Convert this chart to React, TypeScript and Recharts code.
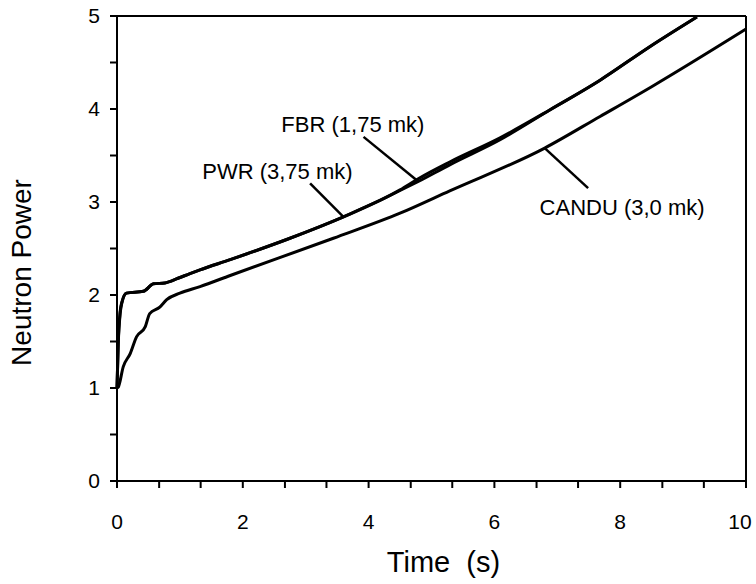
import { LineChart, Line, XAxis, YAxis, ReferenceLine, ReferenceDot, Label } from 'recharts';

// Neutron power transients (time in s, power relative)
const pwrTime = [0, 0.02, 0.05, 0.08, 0.15, 0.42, 0.58, 0.76, 0.97, 1.16, 1.32, 1.8, 2.75, 3.6, 4.79, 5.29, 6.09, 6.88, 7.68, 8.47, 9.22];
const pwrPower = [1.0, 1.5, 1.82, 1.93, 2.02, 2.04, 2.12, 2.13, 2.18, 2.23, 2.27, 2.38, 2.61, 2.84, 3.22, 3.4, 3.67, 3.99, 4.31, 4.67, 4.99];

const fbrTime = [0, 0.02, 0.05, 0.08, 0.15, 0.42, 0.58, 0.76, 0.97, 1.16, 1.32, 1.8, 2.75, 3.6, 4.5, 4.79, 5.29, 6.09, 6.88, 7.68, 8.47, 9.22];
const fbrPower = [1.0, 1.48, 1.8, 1.92, 2.02, 2.04, 2.12, 2.13, 2.18, 2.23, 2.27, 2.38, 2.61, 2.84, 3.13, 3.25, 3.43, 3.69, 3.99, 4.31, 4.67, 4.99];

const canduTime = [0, 0.02, 0.1, 0.21, 0.31, 0.45, 0.52, 0.68, 0.79, 1.0, 1.32, 1.8, 3.44, 4.5, 5.29, 6.8, 7.68, 8.5, 10];
const canduPower = [1.0, 1.01, 1.23, 1.37, 1.55, 1.66, 1.8, 1.87, 1.95, 2.02, 2.09, 2.21, 2.61, 2.88, 3.12, 3.58, 3.92, 4.24, 4.86];

const xMajorTicks = [0, 2, 4, 6, 8, 10];
const xMinorTicks = [0.67, 1.33, 2.67, 3.33, 4.67, 5.33, 6.67, 7.33, 8.67, 9.33];
const yMajorTicks = [0, 1, 2, 3, 4, 5];
const yMinorTicks = [0.5, 1.5, 2.5, 3.5, 4.5];

// annotation text and leader lines, in data units
const labels = [
  { text: 'FBR (1,75 mk)', t: 3.75, p: 3.84, from: [3.92, 3.7], to: [4.79, 3.22] },
  { text: 'PWR (3,75 mk)', t: 2.55, p: 3.33, from: [3.07, 3.2], to: [3.6, 2.84] },
  { text: 'CANDU (3,0 mk)', t: 8.03, p: 2.94, from: [7.49, 3.15], to: [6.8, 3.58] },
];

const FONT = '"Liberation Sans", Arial, sans-serif';

const toPoints = (ts: number[], ps: number[]) => ts.map((t, i) => ({ t, p: ps[i] }));

const pwrData = toPoints(pwrTime, pwrPower);
const fbrData = toPoints(fbrTime, fbrPower);
const canduData = toPoints(canduTime, canduPower);

const xTicks = [...xMajorTicks, ...xMinorTicks].sort((a, b) => a - b);
const yTicks = [...yMajorTicks, ...yMinorTicks].sort((a, b) => a - b);

// last label would run off the page, so pull it in a little
const XTick = (props: any) => {
  const { x, y, payload } = props;
  const v = payload.value;
  if (!xMajorTicks.includes(v)) return null;
  const last = v === xMajorTicks[xMajorTicks.length - 1];
  return (
    <text x={last ? x - 6 : x} y={y + 24} dy="0.71em" textAnchor="middle" fontSize={21} fontFamily={FONT} fill="#000">
      {v}
    </text>
  );
};

const YTitle = (props: any) => {
  const vb = props.viewBox;
  const cx = vb.x + 21;
  const cy = vb.y + vb.height / 2 + 24;
  return (
    <text x={cx} y={cy} transform={`rotate(-90 ${cx} ${cy})`} textAnchor="middle" dominantBaseline="central" fontSize={28} fontFamily={FONT} fill="#000">
      Neutron Power
    </text>
  );
};

const XTitle = (props: any) => {
  const vb = props.viewBox;
  return (
    <text x={vb.x + vb.width / 2 + 12} y={vb.y + 91} textAnchor="middle" fontSize={29} fontFamily={FONT} fill="#000" xmlSpace="preserve">
      Time  (s)
    </text>
  );
};

export default function App() {
  return (
    <div style={{ position: 'absolute', left: 0, top: 0, background: '#fff' }}>
      <LineChart width={756} height={584} margin={{ top: 16, right: 10, bottom: 0, left: 0 }}>
        <XAxis
          dataKey="t"
          type="number"
          domain={[0, 10]}
          ticks={xTicks}
          interval={0}
          height={103}
          stroke="#000"
          strokeWidth={2}
          tickSize={7}
          tick={XTick}
        >
          <Label content={XTitle} />
        </XAxis>
        <YAxis
          type="number"
          domain={[0, 5]}
          ticks={yTicks}
          interval={0}
          width={117}
          stroke="#000"
          strokeWidth={2}
          tickSize={7}
          tickMargin={10}
          tickFormatter={(v: number) => (yMajorTicks.includes(v) ? String(v) : '')}
          tick={{ fontSize: 21, fill: '#000', fontFamily: FONT }}
        >
          <Label content={YTitle} />
        </YAxis>
        <ReferenceLine y={5} stroke="#000" strokeWidth={2} />
        <ReferenceLine x={10} stroke="#000" strokeWidth={2} />
        <Line data={pwrData} dataKey="p" type="monotone" stroke="#000" strokeWidth={3} dot={false} isAnimationActive={false} />
        <Line data={fbrData} dataKey="p" type="monotone" stroke="#000" strokeWidth={3} dot={false} isAnimationActive={false} />
        <Line data={canduData} dataKey="p" type="monotone" stroke="#000" strokeWidth={3} dot={false} isAnimationActive={false} />
        {labels.map((l) => (
          <ReferenceLine
            key={l.text + '-lead'}
            segment={[{ x: l.from[0], y: l.from[1] }, { x: l.to[0], y: l.to[1] }]}
            stroke="#000"
            strokeWidth={2.5}
          />
        ))}
        {labels.map((l) => (
          <ReferenceDot key={l.text} x={l.t} y={l.p} r={1} fill="none" stroke="none">
            <Label value={l.text} position="center" fontSize={22} fontFamily={FONT} fill="#000" />
          </ReferenceDot>
        ))}
      </LineChart>
    </div>
  );
}
